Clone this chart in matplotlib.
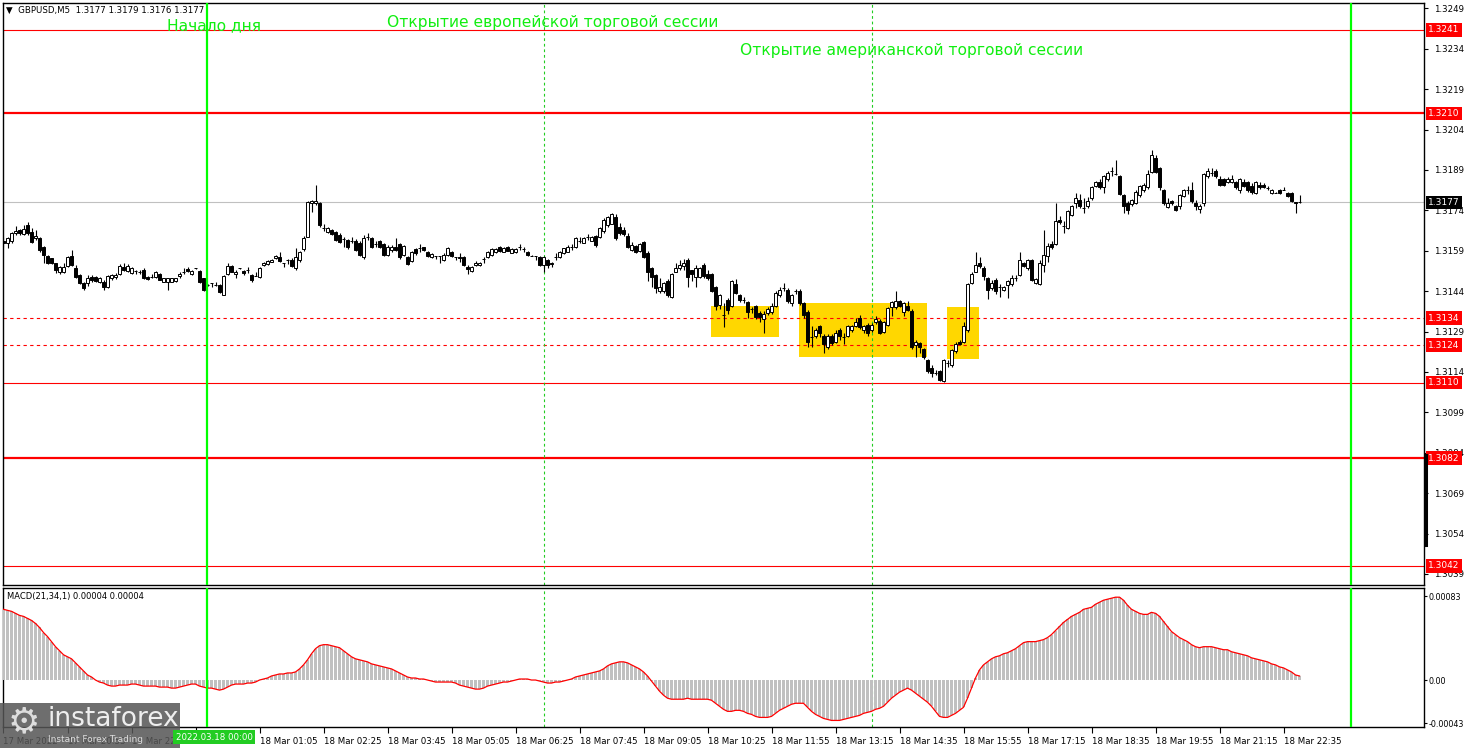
import numpy as np
import matplotlib
matplotlib.use("Agg")
import matplotlib.pyplot as plt
from matplotlib.patches import Rectangle

# GBPUSD M5, prices kept as pips above 1.3100
BASE = 1.3100

open_pips = [
    62.5, 61.8, 62.6, 65.5, 66.7, 65.2, 68.6, 66.1, 63.6, 63.6,
    60.5, 57.1, 56.2, 54.3, 51.2, 51.2, 53.4, 57.1, 52.5, 50,
    46.9, 46.9, 49.4, 49.2, 47.5, 47.5, 45.7, 48.8, 49.2, 50.4,
    53.1, 51.6, 50.9, 51.5, 51.2, 51.9, 49.4, 49.2, 49.2, 50.4,
    47.5, 47.5, 47.5, 47.6, 49.6, 51.2, 52.2, 50.4, 52.5, 51.6,
    48.8, 46.3, 46.9, 46.3, 46.3, 42.6, 50.4, 53.4, 50.4, 52.5,
    51.6, 51.9, 50, 49.6, 49.4, 53.7, 54, 55, 56.2, 56.6,
    54.3, 55.6, 55.6, 52.5, 55.6, 59.6, 64.2, 76.6, 76.6, 76.6,
    67.3, 66.1, 66.7, 66.1, 64.9, 63.3, 63, 62.6, 62.8, 62,
    56.6, 64.2, 63.6, 61.5, 62.8, 61.5, 57.4, 59.3, 60.5, 61.5,
    57.4, 56.6, 55.3, 59.5, 59.9, 60.3, 58.6, 56.6, 57.1, 57.1,
    55.6, 57.4, 58.7, 56.6, 56.6, 56.8, 53.1, 51.6, 53.7, 53.8,
    55.8, 56.6, 57.4, 58.7, 60.3, 58.7, 60.3, 58.3, 58.7, 60.3,
    59.5, 58.7, 57.1, 57.1, 56.8, 53.7, 55.6, 54.3, 56.6, 56.6,
    58.3, 58.7, 60.3, 60.5, 62.8, 62, 64, 62.8, 64.5, 64.2,
    66.5, 68.6, 69, 71.4, 68, 66.7, 64.5, 59.3, 60.8, 59.1,
    62.4, 58.1, 52.5, 50, 44.2, 44.2, 47.6, 42, 51.3, 52.5,
    53.4, 55.6, 51.9, 49.4, 49.4, 53.8, 50.4, 50.4, 45.5, 38.7,
    35.2, 40.8, 38.5, 46.7, 42.6, 40.8, 39.8, 37.3, 38.5, 35.8,
    33.6, 35.8, 36.4, 38.5, 42.6, 45.1, 44.5, 39.5, 43.9, 44.2,
    39.5, 36.4, 26.9, 27.2, 30.9, 27.4, 23.4, 27.4, 25.3, 29.6,
    26.9, 27.2, 29.6, 31.1, 34, 29.4, 31.5, 29.4, 32.4, 33.1,
    29, 31.5, 38.3, 38.3, 40.2, 36.4, 38.5, 36.8, 24.1, 24.7,
    22.5, 18.5, 15.4, 13.5, 14.2, 10.5, 17.2, 16.6, 21.6, 25.3,
    25.3, 29.4, 47.2, 51.3, 54.4, 52.6, 48.8, 45.1, 48.2, 45.5,
    44.3, 46.4, 46.7, 48.8, 50.1, 54.6, 52.6, 55.6, 47.2, 46.7,
    53.8, 56.9, 61.6, 61.6, 70.5, 68.2, 67.4, 72.3, 76.7, 77.7,
    74.8, 75.5, 78.5, 82.9, 84.7, 82.6, 85.6, 88.8, 87.6, 86.8,
    79.8, 76.9, 76.4, 76.9, 79.8, 81.6, 82.6, 88.4, 93.4, 89.7,
    81.6, 75.4, 77.4, 75.7, 75.5, 79.4, 81.6, 81.6, 76.9, 74.5,
    76.7, 86.8, 88, 88.8, 85.6, 85.6, 84.4, 84.4, 84.7, 81.6,
    84.7, 84.4, 82.9, 80.4, 83.5, 83.5, 82.3, 80.4, 80.6, 81.6,
    81.6, 80.6, 80.4, 77, 77.2,
]

high_pips = [
    64, 64, 66, 68.2, 67, 68.6, 69.8, 67.3, 66.7, 64.2,
    60.8, 57.5, 56.5, 54.5, 53.5, 54.3, 57, 59.3, 53.7, 50.5,
    47.5, 50, 50, 49.5, 49.3, 48, 50, 50.5, 50.6, 54,
    54.3, 54, 53, 51.8, 52, 52.5, 49.8, 50.5, 51.5, 50.8,
    49, 49, 49, 49, 51, 52.5, 52.8, 52, 52.6, 52,
    49, 46.5, 47, 47.5, 46.5, 50, 54.5, 53.8, 52, 52.6,
    52, 52.8, 50.5, 51, 53, 55, 55.5, 56, 57.5, 58.7,
    54.5, 55.8, 56.5, 60, 59, 64.5, 77.5, 78, 83.4, 77,
    69, 68, 67, 66.5, 65.5, 64.2, 63.5, 64, 63.3, 62.5,
    64.9, 65.5, 64, 62.8, 63, 62, 61, 61.2, 63.6, 62,
    61, 57, 59, 60, 61.5, 60.5, 59, 58.2, 57.2, 57.2,
    58, 60.5, 59, 56.8, 58.1, 57, 53.7, 53.2, 55.3, 55,
    56.6, 59, 59.9, 59.9, 60.6, 60.5, 60.8, 59.9, 60, 61.5,
    60.5, 59, 57.3, 57.2, 57.2, 57, 56, 55, 58.1, 59,
    60.2, 61, 61.5, 64, 64, 64.2, 65.2, 64.6, 64.9, 67.8,
    71, 72, 73.2, 72.5, 69.2, 67.8, 65.5, 62.4, 61.2, 62,
    62.8, 59, 53, 50.5, 48.8, 47.5, 48.5, 50.8, 54.6, 55.6,
    55.9, 56.5, 52, 53.8, 53, 54.3, 52, 50.8, 46, 43,
    39.5, 41.5, 48, 48.4, 43, 42, 40.2, 38, 39, 36.5,
    36.5, 38, 39.5, 44, 45.5, 47.2, 45, 43, 44.7, 44.9,
    40, 37, 30.9, 30.2, 31.5, 28, 28, 28, 29.5, 30.5,
    28.6, 31.5, 31.5, 34, 35, 31.4, 32, 32, 34.6, 33.6,
    33, 38, 40.5, 43.9, 40.8, 40, 40.2, 37.5, 26, 25,
    23, 19, 16.6, 14.8, 14.8, 18.7, 18.5, 22.7, 25, 26,
    32.7, 47, 51, 58.4, 56.6, 53.2, 49.3, 48.2, 49, 46.5,
    46, 48, 50, 50, 58.7, 55, 56, 56, 49, 55.6,
    66.8, 61.8, 62.5, 76.9, 72, 69.9, 74, 76, 80.4, 80,
    78.5, 79, 83, 85, 85.5, 87, 88.8, 90.1, 92.8, 87.2,
    80.2, 77.3, 78.2, 81.5, 83.5, 84, 89.1, 96.5, 94.6, 90.1,
    82, 78.5, 77.8, 76, 80.2, 82, 83.1, 84.7, 77.9, 76.5,
    88, 89.7, 89.7, 89.2, 86.8, 86, 86.5, 87.2, 85, 86,
    85.6, 85, 84.1, 84.8, 84.5, 84, 82.9, 82, 80.8, 82,
    82.6, 81, 80.8, 77.2, 79.8,
]

low_pips = [
    60.5, 60, 62, 64.9, 65, 65, 64.9, 61.8, 63, 58.7,
    54.3, 54, 54, 50.6, 50.5, 50.6, 53, 53.5, 49, 46.5,
    44.4, 46, 47.5, 47.5, 47, 44.5, 45, 48, 48.6, 50,
    51.5, 51.2, 50.5, 50.5, 50.3, 48.6, 48, 49, 49, 48,
    47.3, 44.4, 47.3, 47.3, 49, 50.2, 51, 50, 52.4, 47,
    44, 46, 45.7, 46, 43.5, 42.5, 50, 51, 49, 52.4,
    50, 50.6, 47.5, 49.5, 49, 53.5, 53.8, 54.8, 56, 55,
    53, 54, 53, 52, 55, 59, 64, 73.5, 76, 68,
    66.5, 65.5, 65, 62.5, 62, 60.5, 59.5, 61.8, 58.8, 57,
    56, 63, 60, 60.3, 60, 57, 57, 58.5, 59, 56,
    57, 53.8, 55, 57.5, 58.7, 59, 56.8, 56.2, 55.8, 54.6,
    55.3, 57, 56.8, 55.6, 55, 53.5, 50.4, 51, 53.4, 53.5,
    54.3, 56.2, 57, 58.3, 58.7, 58.5, 58.8, 58, 58.3, 59.3,
    58.4, 57, 56.9, 55.6, 53.4, 51, 52.5, 53, 55.6, 56.3,
    57.8, 58.4, 59.3, 60, 62, 61.8, 63, 62.5, 60.3, 63.6,
    65.5, 68, 68.8, 63, 65, 64.6, 59.9, 59, 58, 58.7,
    56.5, 47.6, 45.7, 43.3, 43.2, 43.5, 42, 41.5, 51, 52,
    52, 45.7, 47.6, 45.5, 49, 49, 48, 43.8, 37.1, 37.5,
    30.6, 35.5, 38, 43, 40, 39.5, 34, 36, 33.8, 32.7,
    28.4, 35, 35.5, 38, 42, 43.9, 39.5, 38.5, 43, 39,
    34, 23.4, 23.4, 26.5, 27, 21.2, 22.5, 24, 24.8, 26,
    24.4, 26.8, 29, 30.6, 30, 28.5, 27.5, 29, 31.8, 28,
    28.5, 31, 34.6, 37.5, 38, 34.6, 36.5, 22.5, 19.7, 21,
    19, 13.5, 12.3, 12.9, 10.7, 10.1, 16, 16, 21, 24,
    24.7, 29, 46.7, 51, 52.5, 48.2, 41, 44.5, 43, 42,
    44, 41.4, 46, 47.6, 49.6, 53, 52, 47.6, 46.6, 46.2,
    51.3, 55, 59.8, 61.2, 69, 65.5, 67, 71.8, 74.8, 75,
    73.2, 75, 78, 82.5, 82, 80.4, 85, 86.8, 87.2, 79.8,
    73, 72.7, 75.7, 76.4, 79, 81, 82, 88, 88, 81.6,
    76, 75, 76, 73.6, 74.6, 79, 80.2, 76.9, 74.2, 73.2,
    75.5, 86, 86.8, 86.2, 83, 83, 84, 84, 82, 80.4,
    82.5, 81, 80.2, 80, 82, 82.2, 81.4, 80, 80.4, 80,
    81.4, 79, 77, 73.2, 76.7,
]

close_pips = [
    62, 63.6, 65.7, 66.5, 65.5, 67, 65.5, 62.4, 64.5, 59.3,
    57.4, 54.3, 54.6, 51.9, 53.1, 52.9, 56.6, 53.7, 49.4, 46.9,
    45, 48.8, 48.2, 47.9, 48.8, 45.7, 49.6, 50, 50, 53.4,
    51.9, 53.4, 52.5, 51.5, 51.3, 48.8, 48.4, 49.2, 51.2, 48.2,
    48.8, 48.8, 48.8, 48.8, 50.4, 51.3, 51.5, 51.6, 52.5, 47.5,
    44.4, 46.3, 46.9, 46.2, 43.8, 49.6, 53.4, 51.2, 51.3, 52.5,
    50.6, 51.8, 48.2, 49.6, 52.5, 54.3, 55.2, 55.6, 57.1, 55.3,
    54.3, 55.6, 53.4, 56.6, 58.7, 63.6, 77.2, 77.5, 77.5, 68.6,
    67.4, 67.3, 65.2, 63, 62.4, 63.2, 60.3, 62.7, 59.3, 57.4,
    63.6, 64.2, 60.3, 61.6, 60.5, 57.4, 60.5, 60.3, 59.3, 56.6,
    60.8, 54.1, 58.7, 58, 60, 59.3, 57.1, 57.8, 57.1, 57.1,
    57.4, 59.9, 57.1, 56.6, 56.5, 53.7, 52.2, 52.9, 54.6, 54.6,
    55.9, 58.7, 59.5, 59.5, 59.1, 59.9, 59.1, 59.5, 59.5, 60.3,
    59.5, 57.4, 57.1, 57.1, 53.7, 56.6, 53.7, 54.2, 56.6, 58.7,
    59.9, 60.3, 60.3, 63.6, 62.8, 63.6, 64.1, 64.2, 61.2, 67.3,
    70.4, 71.7, 72.7, 63.6, 65.5, 65.2, 60.3, 61.2, 58.7, 61.5,
    56.8, 51.3, 49.4, 45.1, 45.5, 47, 42.6, 50.4, 52.5, 53.8,
    54.6, 49.4, 50.4, 52.5, 52.5, 49.7, 48.8, 44.2, 38.5, 42.6,
    35.3, 37.1, 47.6, 43.5, 40.8, 40.8, 36.4, 37.3, 34.3, 34.3,
    35.6, 37.3, 38.5, 43.5, 44.5, 45.1, 40.2, 42.6, 43.9, 39.5,
    35.2, 25.3, 26.9, 29.6, 28.4, 24.4, 27.2, 24.7, 28.6, 27.2,
    26.9, 30.9, 30.9, 32.7, 30.6, 30.9, 28.4, 31.5, 33.6, 28.6,
    32.4, 37.7, 39.8, 40.2, 38.5, 39.5, 37.1, 23.4, 25.3, 23.2,
    19.5, 14.2, 13.8, 13.5, 11.1, 18.3, 17.2, 22.2, 24.4, 24.4,
    30.9, 46.7, 50.4, 53.8, 53.4, 49.5, 44.5, 47.2, 43.9, 45.5,
    45.5, 47.6, 48.8, 48.8, 55.6, 53.4, 55.6, 48.2, 48.5, 54.4,
    57.5, 60.6, 60.4, 69.9, 69.5, 68.2, 73.6, 75.7, 78.5, 75.5,
    74.8, 77.3, 82.6, 84.4, 82.6, 86.6, 87.8, 88.8, 87.6, 80.2,
    75.5, 74.2, 77.7, 81, 82.9, 83.5, 87.6, 94.6, 88.4, 82.6,
    76.7, 76.9, 76.7, 74.2, 79.8, 81.6, 81.6, 77.3, 75.5, 75.7,
    87.6, 88.8, 88, 86.6, 83.5, 83.5, 85.6, 85.6, 82.6, 85.6,
    83.1, 81.6, 81, 84.4, 82.6, 82.6, 82.2, 81.6, 80.6, 80.4,
    81.6, 79.4, 77.3, 76.9, 77,
]

# MACD(21,34,1) in units of 0.00001
macd_e5 = [
    70, 69, 68, 66, 64, 63, 61, 59, 56, 52,
    47, 43, 38, 33, 29, 25, 23, 21, 17, 13,
    9, 5, 3, 0, -2, -3, -5, -6, -6, -5,
    -5, -5, -4, -4, -5, -6, -6, -6, -6, -7,
    -7, -7, -8, -8, -7, -6, -5, -4, -4, -6,
    -7, -8, -8, -9, -10, -9, -7, -5, -4, -4,
    -4, -3, -3, -2, 0, 1, 2, 4, 5, 6,
    6, 7, 7, 8, 11, 15, 20, 26, 31, 34,
    35, 35, 34, 33, 32, 29, 26, 23, 21, 20,
    19, 18, 16, 15, 14, 13, 12, 11, 9, 7,
    5, 3, 2, 2, 1, 1, 0, -1, -2, -2,
    -2, -2, -2, -3, -5, -6, -7, -8, -9, -9,
    -8, -6, -5, -4, -3, -2, -2, -1, 0, 1,
    1, 1, 0, 0, -1, -2, -3, -3, -2, -2,
    -1, 0, 1, 3, 4, 5, 6, 7, 8, 9,
    11, 14, 16, 17, 18, 18, 17, 15, 13, 11,
    8, 4, -1, -6, -11, -15, -18, -19, -19, -19,
    -19, -18, -19, -19, -19, -19, -19, -20, -23, -26,
    -29, -31, -31, -30, -30, -31, -33, -34, -36, -37,
    -37, -37, -36, -33, -30, -28, -26, -24, -23, -23,
    -23, -27, -31, -34, -36, -38, -39, -40, -40, -40,
    -39, -38, -37, -36, -35, -33, -32, -31, -29, -28,
    -26, -22, -18, -15, -12, -10, -8, -10, -13, -16,
    -19, -22, -26, -31, -36, -37, -37, -35, -33, -30,
    -27, -18, -8, 2, 10, 15, 18, 21, 23, 24,
    26, 27, 29, 31, 34, 37, 38, 38, 38, 39,
    40, 42, 45, 49, 53, 57, 60, 63, 65, 67,
    70, 71, 72, 75, 77, 79, 80, 81, 82, 82,
    79, 74, 70, 68, 66, 65, 65, 67, 66, 63,
    58, 53, 48, 45, 42, 40, 38, 35, 33, 32,
    33, 33, 33, 32, 31, 30, 30, 28, 27, 26,
    25, 24, 22, 21, 20, 19, 18, 16, 15, 13,
    12, 10, 8, 5, 4,
]

# horizontal levels drawn on the chart
thin_levels = [1.3241, 1.3110, 1.3042]
thick_levels = [1.3210, 1.3082]
dashed_levels = [1.3134, 1.3124]
last_price = 1.3177

# time axis (bar index -> label)
xtick_bars = [0, 16, 32, 48, 64, 80, 96, 112, 128, 144, 160, 176, 192, 208,
              224, 240, 256, 272, 288, 304, 320]
xtick_labels = ["17 Mar 2022", "17 Mar 20:55", "17 Mar 22:15", "17 Mar 23:35",
                "18 Mar 01:05", "18 Mar 02:25", "18 Mar 03:45", "18 Mar 05:05",
                "18 Mar 06:25", "18 Mar 07:45", "18 Mar 09:05", "18 Mar 10:25",
                "18 Mar 11:55", "18 Mar 13:15", "18 Mar 14:35", "18 Mar 15:55",
                "18 Mar 17:15", "18 Mar 18:35", "18 Mar 19:55", "18 Mar 21:15",
                "18 Mar 22:35"]

# yellow zones: (first bar, last bar, low pips, high pips)
zone_start = [176.9, 198.9, 235.9]
zone_end = [193.8, 230.8, 243.9]
zone_low = [27.1, 19.7, 18.9]
zone_high = [38.5, 39.7, 38.3]

n = len(close_pips)
assert len(open_pips) == n and len(high_pips) == n and len(low_pips) == n
assert len(macd_e5) == n

o = BASE + np.array(open_pips) / 1e4
h = BASE + np.array(high_pips) / 1e4
l = BASE + np.array(low_pips) / 1e4
c = BASE + np.array(close_pips) / 1e4
macd = np.array(macd_e5, dtype=float)
x = np.arange(n)

W, H = 1468, 748
fig = plt.figure(figsize=(W / 100, H / 100), dpi=100)
fig.patch.set_facecolor("white")

ax = fig.add_axes([3 / W, 1 - 585 / H, 1421 / W, 582 / H])
ax2 = fig.add_axes([3 / W, 1 - 727 / H, 1421 / W, 139 / H])

xlim = (-0.125, 355.125)
green = "#00FF00"
red = "#FF0000"
small = 6.2

# ---- main price panel
for s, e, lo, hi in zip(zone_start, zone_end, zone_low, zone_high):
    ax.add_patch(Rectangle((s, BASE + lo / 1e4), e - s, (hi - lo) / 1e4,
                           facecolor="#FFD700", edgecolor="none", zorder=1))

for lv in thin_levels:
    ax.axhline(lv, color=red, lw=0.8, zorder=2)
for lv in thick_levels:
    ax.axhline(lv, color=red, lw=1.6, zorder=2)
for lv in dashed_levels:
    ax.axhline(lv, color=red, lw=0.8, ls=(0, (3, 3)), zorder=2)
ax.axhline(last_price, color="#C0C0C0", lw=0.8, zorder=2)

for a in (ax, ax2):
    a.axvline(50.9, color=green, lw=1.6, zorder=6)
    a.axvline(336.9, color=green, lw=1.6, zorder=6)
    a.axvline(135, color="#22CC22", lw=0.8, ls=(0, (2.5, 2.5)), zorder=2)
    a.axvline(217.1, color="#22CC22", lw=0.8, ls=(0, (2.5, 2.5)), zorder=2)

# candles
ax.vlines(x, l, h, color="black", lw=0.8, zorder=3)
body_bottom = np.minimum(o, c)
body_height = np.abs(c - o)
body_color = np.where(c >= o, "white", "black")
ax.bar(x, body_height, bottom=body_bottom, width=0.6, color=body_color,
       edgecolor="black", linewidth=0.7, zorder=4)

ax.set_xlim(*xlim)
ax.set_ylim(1.30349, 1.32510)
yt = np.round(np.arange(1.3249, 1.3035, -0.0015), 4)
ax.set_yticks(yt)
ax.set_yticklabels([f"{v:.4f}" for v in yt])
ax.yaxis.tick_right()
ax.tick_params(axis="y", direction="out", length=3, pad=4, labelsize=small)
ax.set_xticks([])

for lv in thin_levels + thick_levels + dashed_levels:
    ax.text(1.003, lv, f"{lv:.4f}", transform=ax.get_yaxis_transform(),
            color="white", fontsize=small + 0.3, va="center", ha="left",
            zorder=10, bbox=dict(facecolor=red, edgecolor="none", pad=1.6),
            clip_on=False)
ax.text(1.003, last_price, f"{last_price:.4f}", transform=ax.get_yaxis_transform(),
        color="white", fontsize=small + 0.3, va="center", ha="left", zorder=11,
        bbox=dict(facecolor="black", edgecolor="none", pad=1.6), clip_on=False)

# ---- MACD panel
ax2.bar(x, macd, width=0.55, color="#C0C0C0", zorder=3)
ax2.plot(x, macd, color=red, lw=0.9, zorder=4)
ax2.set_xlim(*xlim)
ax2.set_ylim(-46.5, 91.1)
ax2.set_yticks([83, 0, -43])
ax2.set_yticklabels(["0.00083", "0.00", "-0.00043"])
ax2.yaxis.tick_right()
ax2.tick_params(axis="y", direction="out", length=2, pad=1.5, labelsize=5.8)
ax2.set_xticks(xtick_bars)
ax2.set_xticklabels(xtick_labels)
ax2.tick_params(axis="x", direction="out", length=4, pad=3, labelsize=small)
for lab in ax2.get_xticklabels():
    lab.set_horizontalalignment("left")

for a in (ax, ax2):
    for sp in a.spines.values():
        sp.set_color("black")
        sp.set_linewidth(1.0)

# ---- texts
fig.text(6 / W, 1 - 10 / H, "\u25BC  GBPUSD,M5  1.3177 1.3179 1.3176 1.3177",
         fontsize=6.2, va="center", ha="left", color="black")
fig.text(7 / W, 1 - 597 / H, "MACD(21,34,1) 0.00004 0.00004",
         fontsize=6.0, va="center", ha="left", color="black")

txt_green = "#11EE11"
fig.text(167 / W, 1 - 26 / H, "Начало дня", fontsize=11.2, color=txt_green,
         va="center", ha="left")
fig.text(387 / W, 1 - 22 / H, "Открытие европейской торговой сессии",
         fontsize=11.2, color=txt_green, va="center", ha="left")
fig.text(740 / W, 1 - 51 / H, "Открытие американской торговой сессии",
         fontsize=11.2, color=txt_green, va="center", ha="left")

# black marker on the price scale
fig.add_artist(plt.Line2D([1426 / W, 1426 / W], [1 - 455 / H, 1 - 545 / H],
                          color="black", lw=2.2))

# watermark logo
fig.add_artist(Rectangle((0, 0), 180 / W, 45 / H, transform=fig.transFigure,
                         facecolor="#555555", alpha=0.85, edgecolor="none",
                         zorder=30))
fig.text(24 / W, 1 - 722 / H, "\u2699", fontsize=26, color="#DDDDDD",
         va="center", ha="center", zorder=31)
fig.text(47 / W, 1 - 719 / H, "instaforex", fontsize=19, color="#EEEEEE",
         va="center", ha="left", zorder=31)
fig.text(48 / W, 1 - 740 / H, "Instant Forex Trading", fontsize=6.5,
         color="#DDDDDD", va="center", ha="left", zorder=31)

# date label at the day start line
fig.text(214 / W, 1 - 737 / H, "2022.03.18 00:00", fontsize=6.2, color="white",
         va="center", ha="center", zorder=40,
         bbox=dict(facecolor="#22CC22", edgecolor="none", pad=1.5))

fig.savefig("out.png", dpi=100)
